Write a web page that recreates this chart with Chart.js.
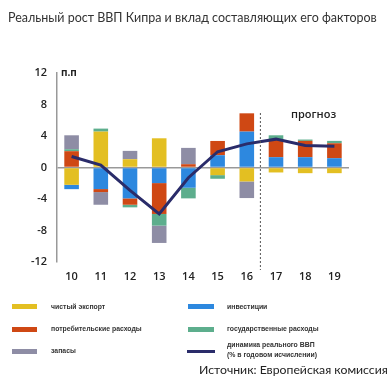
<!DOCTYPE html>
<html><head><meta charset="utf-8">
<script src="https://cdn.jsdelivr.net/npm/chart.js@4/dist/chart.umd.min.js"></script>
<style>
html,body{margin:0;padding:0;background:#fff;}
#wrap{position:relative;width:391px;height:380px;overflow:hidden;font-family:"Open Sans","Liberation Sans",Arial,sans-serif;color:#222;}
canvas{position:absolute;left:0;top:0;}
.t{position:absolute;white-space:nowrap;}
#title{left:8px;top:10px;font-size:12px;color:#333;font-family:Lato,"Open Sans",sans-serif;}
#src{left:199px;top:362px;font-size:13px;color:#222;font-family:Lato,"Open Sans",sans-serif;}
.lg{position:absolute;height:5px;}
.lt{position:absolute;font-size:7.5px;font-weight:bold;color:#333;white-space:nowrap;line-height:10px;font-family:"Liberation Sans Narrow","Liberation Sans",Arial,sans-serif;}
</style></head><body>
<div id="wrap">
<canvas id="c" width="391" height="380"></canvas>
<div id="title" class="t">Реальный рост ВВП Кипра и вклад составляющих его факторов</div>
<div class="t" style="left:61px;top:65px;font-size:10px;font-weight:bold;">п.п</div>
<div class="t" style="left:291px;top:106px;font-size:11px;font-weight:600;">прогноз</div>

<div class="lg" style="left:12px;top:304px;width:25px;background:#E3BF22"></div>
<div class="lt" style="left:51px;top:302px;">чистый экспорт</div>
<div class="lg" style="left:12px;top:327px;width:25px;background:#CF4814"></div>
<div class="lt" id="longest" style="left:51px;top:324px;">потребительские расходы</div>
<div class="lg" style="left:12px;top:349px;width:25px;background:#8E8DA5"></div>
<div class="lt" style="left:51px;top:346px;">запасы</div>

<div class="lg" style="left:188px;top:304px;width:26px;background:#2D88DF"></div>
<div class="lt" style="left:227px;top:302px;">инвестиции</div>
<div class="lg" style="left:188px;top:327px;width:26px;background:#5DAE8D"></div>
<div class="lt" style="left:227px;top:324px;">государственные расходы</div>
<div class="lg" style="left:187px;top:350px;width:28px;height:3px;background:#2A2C6A"></div>
<div class="lt" style="left:227px;top:340px;">динамика реального ВВП<br>(% в годовом исчислении)</div>

<div id="src" class="t">Источник: Европейская комиссия</div>
</div>
<script>
const years = ['10','11','12','13','14','15','16','17','18','19'];
const yTicks = [-12,-8,-4,0,4,8,12];
const netExports  = [-2.2, 4.56, 1.05, 3.71, 0, -0.97, -1.77, -0.63, -0.72, -0.72];
const investment  = [-0.55, -2.74, -3.92, -1.98, -2.57, 1.56, 4.56, 1.31, 1.31, 1.18];
const consumption = [2.07, -0.38, -0.81, -3.92, 0.42, 1.81, 2.32, 2.19, 2.07, 1.9];
const government  = [0.25, 0.38, -0.33, -1.48, -1.35, -0.46, 0, 0.59, 0.17, 0.3];
const inventory   = [1.77, -1.61, 1.06, -2.2, 2.07, 0, -2.11, 0, 0, 0];
const gdp         = [1.4, 0.3, -2.9, -5.9, -1.3, 2.0, 3.0, 3.6, 2.8, 2.7];

// fit text widths to the reference layout
function fit(el, target){
  const fs = parseFloat(getComputedStyle(el).fontSize);
  const w = el.getBoundingClientRect().width;
  const nfs = fs * target / w;
  el.style.fontSize = nfs + 'px';
  return nfs;
}
fit(document.getElementById('title'), 369);
fit(document.getElementById('src'), 189);
const lfs = fit(document.getElementById('longest'), 91);
document.querySelectorAll('.lt').forEach(e=>{ e.style.fontSize = lfs + 'px'; });

const forecastLine = {
  id:'forecast',
  afterDatasetsDraw(chart){
    const {ctx, scales:{x}} = chart;
    const px = (x.getPixelForValue(6) + x.getPixelForValue(7))/2 - 1;
    ctx.save();
    ctx.strokeStyle = '#555';
    ctx.lineWidth = 1;
    ctx.setLineDash([2,2]);
    ctx.beginPath();
    ctx.moveTo(px, 113);
    ctx.lineTo(px, 270);
    ctx.stroke();
    ctx.restore();
  }
};

function bar(label, data, color){
  return {type:'bar', label, data, backgroundColor:color, stack:'c', order:1,
    barPercentage:0.5, categoryPercentage:1, borderWidth:0};
}

new Chart(document.getElementById('c'), {
  data:{
    labels: years,
    datasets:[
      {type:'line', label:'динамика реального ВВП', data:gdp, borderColor:'#2A2C6A', borderWidth:3,
       pointRadius:0, tension:0, fill:false, stack:'g', order:0},
      bar('чистый экспорт', netExports, '#E3BF22'),
      bar('инвестиции', investment, '#2D88DF'),
      bar('потребительские расходы', consumption, '#CF4814'),
      bar('государственные расходы', government, '#5DAE8D'),
      bar('запасы', inventory, '#8E8DA5')
    ]
  },
  options:{
    responsive:false, animation:false,
    layout:{padding:{left:0, top:73, right:42, bottom:0}},
    plugins:{legend:{display:false}, tooltip:{enabled:false}},
    scales:{
      x:{stacked:true, grid:{display:false, drawTicks:false}, border:{display:false},
         ticks:{padding:8, color:'#222', font:{family:'Open Sans', size:11, weight:'600'}},
         afterFit(s){ s.height = 118; }},
      y:{stacked:true, min:-12, max:12,
         afterBuildTicks(s){ s.ticks = yTicks.map(v=>({value:v})); },
         grid:{drawTicks:false, color:c=> c.tick && c.tick.value===0 ? '#999' : 'rgba(0,0,0,0)', lineWidth:1.5},
         border:{display:true, color:'#999', width:1.5},
         ticks:{padding:10, color:'#222', font:{family:'Open Sans', size:11, weight:'600'}},
         afterFit(s){ s.width = 57; }}
    }
  },
  plugins:[forecastLine]
});
</script>
</body></html>
